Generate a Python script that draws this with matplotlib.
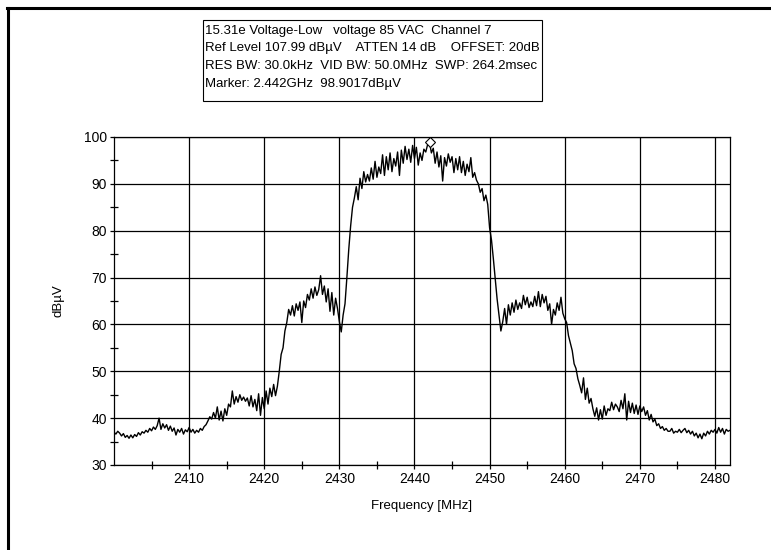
import matplotlib.pyplot as plt
import numpy as np
from matplotlib.lines import Line2D
from matplotlib.patches import Rectangle

plt.rcParams['font.family'] = ['Liberation Sans', 'DejaVu Sans']

# sweep 2400..2482 MHz, 0.25 MHz steps
f_start, f_stop = 2400, 2482
level = [
    37.0, 36.6, 37.2, 36.8, 36.2, 36.7, 35.9, 36.3,
    35.7, 36.4, 35.8, 36.5, 36.1, 36.9, 36.4, 37.1,
    36.8, 37.4, 37.0, 37.8, 37.3, 38.1, 37.6, 38.4,
    40.0, 37.6, 38.8, 37.9, 38.6, 37.4, 38.3, 37.2,
    37.9, 36.4, 37.6, 37.0, 37.8, 36.6, 37.5, 37.1,
    38.0, 37.0, 37.6, 36.8, 37.4, 37.0, 37.8, 37.4,
    38.2, 38.6, 39.4, 40.3, 39.8, 41.2, 40.0, 42.4,
    39.6, 41.5, 39.4, 42.0, 40.6, 43.0, 42.4, 45.8,
    43.0, 44.6, 43.4, 45.0, 43.8, 44.5, 43.6, 44.3,
    42.6, 44.8, 42.4, 44.0, 41.6, 45.2, 40.6, 44.4,
    42.0, 45.8, 43.0, 46.4, 44.6, 47.2, 44.8, 46.8,
    50.0, 53.6, 55.0, 58.6, 60.4, 63.2, 62.0, 64.0,
    61.8, 64.4, 63.0, 64.8, 60.4, 65.0, 63.6, 66.4,
    65.2, 67.6, 65.6, 68.0, 66.2, 67.4, 70.4, 66.4,
    68.2, 64.8, 67.6, 62.8, 66.8, 62.0, 65.6, 63.4,
    60.6, 58.4, 62.0, 64.4, 70.0, 76.0, 81.0, 85.0,
    87.0, 89.4, 86.6, 91.2, 89.0, 92.6, 90.4, 92.0,
    90.6, 93.4, 91.0, 94.8, 91.4, 93.6, 92.2, 96.2,
    91.8, 95.8, 93.0, 96.6, 92.6, 95.4, 93.8, 96.8,
    91.8, 97.2, 94.4, 98.0, 95.2, 97.4, 94.6, 98.2,
    95.4, 97.8, 94.0, 96.6, 95.0, 97.4, 96.8, 98.4,
    98.9, 96.6, 97.6, 94.4, 96.8, 93.6, 96.0, 90.6,
    95.6, 93.8, 96.4, 94.6, 95.8, 92.4, 95.4, 93.0,
    95.8, 92.4, 94.8, 91.8, 94.2, 92.6, 95.6, 91.4,
    92.4, 90.8, 90.0, 88.2, 89.0, 86.4, 87.6, 85.6,
    80.6, 78.0, 74.0, 69.6, 65.4, 62.0, 58.6, 60.6,
    63.4, 60.0, 64.2, 62.0, 64.6, 62.6, 65.2, 63.2,
    64.6, 63.4, 66.2, 64.2, 65.8, 63.6, 64.8, 63.8,
    66.0, 64.0, 67.0, 63.8, 66.4, 64.6, 66.0, 63.0,
    64.4, 60.0, 63.2, 62.0, 64.6, 63.0, 65.8, 62.4,
    61.2, 60.4, 57.6, 56.0, 54.4, 51.6, 50.6, 48.4,
    47.0, 45.4, 48.6, 44.0, 46.4, 43.2, 44.2, 42.0,
    40.4, 42.2, 39.6, 41.8, 39.8, 42.6, 40.6, 42.0,
    41.6, 43.4, 41.8, 43.0, 42.4, 41.4, 43.8, 42.0,
    45.2, 39.6, 43.6, 41.2, 43.2, 41.0, 42.8, 40.8,
    42.6, 41.4, 42.4, 40.6, 41.6, 39.6, 40.8, 39.2,
    39.8, 38.4, 38.8, 37.8, 38.2, 37.4, 37.8, 37.2,
    37.2, 37.8, 36.8, 37.2, 37.0, 37.6, 36.9, 37.4,
    37.8, 36.9, 37.4, 36.6, 37.2, 36.2, 36.8, 35.8,
    36.6, 35.6, 36.8, 36.2, 37.2, 36.6, 37.4, 37.0,
    37.6, 36.8, 38.0, 37.0, 37.8, 36.6, 37.6, 37.2,
    37.4,
]
freq = np.linspace(f_start, f_stop, len(level))

marker_f, marker_v = 2442, 98.9
x_ticks = [2410, 2420, 2430, 2440, 2450, 2460, 2470, 2480]
y_ticks = [30, 40, 50, 60, 70, 80, 90, 100]

header = [
    "15.31e Voltage-Low   voltage 85 VAC  Channel 7",
    "Ref Level 107.99 dB\u00b5V    ATTEN 14 dB    OFFSET: 20dB",
    "RES BW: 30.0kHz  VID BW: 50.0MHz  SWP: 264.2msec",
    "Marker: 2.442GHz  98.9017dB\u00b5V",
]

fig = plt.figure(figsize=(7.71, 5.5), dpi=100)
W, H = 771, 550
ax = fig.add_axes([114 / W, 1 - 465 / H, (730 - 114) / W, (465 - 137) / H])

ax.plot(freq, level, color='black', lw=1.0)
ax.plot(marker_f, marker_v, marker='D', ms=5.5, mfc='white', mec='black',
        mew=0.8, clip_on=False)

ax.set_xlim(f_start, f_stop)
ax.set_ylim(30, 100)
ax.set_xticks(x_ticks)
ax.set_yticks(y_ticks)
ax.set_xticks(np.array(x_ticks) - 5, minor=True)
ax.set_yticks(np.array(y_ticks[:-1]) + 5, minor=True)
ax.grid(True, which='major', color='black', lw=0.9)
ax.tick_params(which='major', direction='out', length=3, width=0.9,
               labelsize=10, colors='black', pad=2)
ax.tick_params(which='minor', direction='inout', length=6, width=0.9)
for s in ax.spines.values():
    s.set_linewidth(0.9)

ax.set_xlabel("Frequency [MHz]", fontsize=9.5, labelpad=10)
ax.set_ylabel("dB\u00b5V", fontsize=9.5, labelpad=14)

# header box
fig.add_artist(Rectangle((203 / W, 1 - 101 / H), (542 - 203) / W, 81 / H,
                         transform=fig.transFigure, fill=False,
                         edgecolor='black', lw=0.8))
for i, line in enumerate(header):
    fig.text(205 / W, 1 - (31 + 17.5 * i) / H, line, fontsize=9.5,
             va='center', ha='left')

# window frame (top and left edges only)
fig.add_artist(Line2D([8 / W, 8 / W], [0, 1 - 8 / H], color='black', lw=2.2,
                      transform=fig.transFigure))
fig.add_artist(Line2D([7 / W, 1], [1 - 8 / H, 1 - 8 / H], color='black', lw=2.2,
                      transform=fig.transFigure))

fig.savefig('out.png', dpi=100, facecolor='white')
